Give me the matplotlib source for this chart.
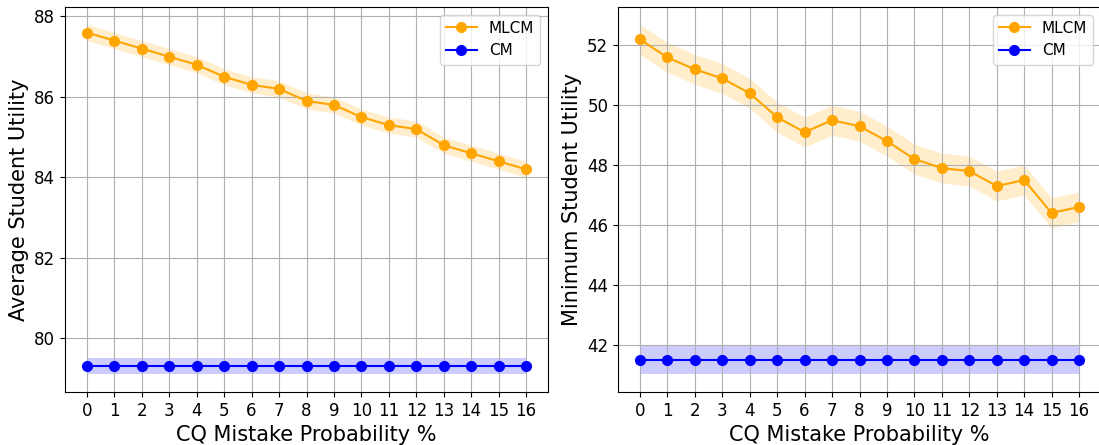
import matplotlib
matplotlib.use("Agg")
import matplotlib.pyplot as plt
import numpy as np

x = list(range(17))
xticks = [str(i) for i in x]

avg_mlcm = [87.6, 87.4, 87.2, 87.0, 86.8, 86.5, 86.3, 86.2, 85.9, 85.8, 85.5, 85.3, 85.2, 84.8, 84.6, 84.4, 84.2]
avg_mlcm_err = 0.2
avg_cm = [79.3] * 17
avg_cm_err = 0.2

min_mlcm = [52.2, 51.6, 51.2, 50.9, 50.4, 49.6, 49.1, 49.5, 49.3, 48.8, 48.2, 47.9, 47.8, 47.3, 47.5, 46.4, 46.6]
min_mlcm_err = 0.5
min_cm = [41.5] * 17
min_cm_err = 0.5

fig = plt.figure(figsize=(10.99, 4.45), dpi=100)
ax1 = fig.add_axes([65/1099, 1-392/445, 483/1099, 385/445])
ax2 = fig.add_axes([618/1099, 1-392/445, 483/1099, 385/445])

def draw(ax, m, me, c, ce, ylabel):
    m = np.array(m); c = np.array(c)
    ax.plot(x, m, '-o', color='orange', label='MLCM', markersize=7, linewidth=1.5)
    ax.fill_between(x, m - me, m + me, color='orange', alpha=0.2, linewidth=0)
    ax.plot(x, c, '-o', color='blue', label='CM', markersize=7, linewidth=1.5)
    ax.fill_between(x, c - ce, c + ce, color='blue', alpha=0.2, linewidth=0)
    ax.set_xticks(x)
    ax.set_xticklabels(xticks)
    ax.tick_params(labelsize=12)
    ax.set_xlabel('CQ Mistake Probability %', fontsize=15)
    ax.set_ylabel(ylabel, fontsize=15)
    ax.grid(True)
    ax.legend(loc='upper right', fontsize=11)

draw(ax1, avg_mlcm, avg_mlcm_err, avg_cm, avg_cm_err, 'Average Student Utility')
draw(ax2, min_mlcm, min_mlcm_err, min_cm, min_cm_err, 'Minimum Student Utility')

fig.savefig('out.png', dpi=100)
